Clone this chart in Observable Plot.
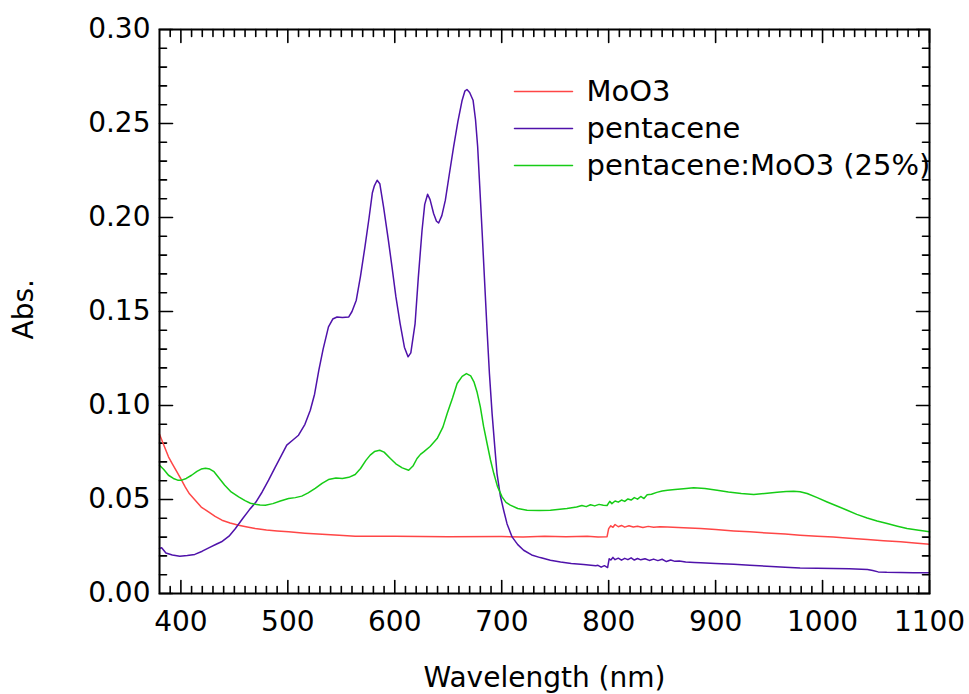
<!DOCTYPE html>
<html>
<head>
<meta charset="utf-8">
<script src="https://cdn.jsdelivr.net/npm/d3@7"></script>
<script src="https://cdn.jsdelivr.net/npm/@observablehq/plot@0.6"></script>
<style>
  html, body { margin: 0; padding: 0; background: #fff; }
  #chart svg { display: block; }
</style>
</head>
<body>
<div id="chart"></div>
<script>
// ---- data ----
const seriesNames = ["MoO3", "pentacene", "pentacene:MoO3 (25%)"];
const seriesColors = ["#ff4646", "#4f12aa", "#16cc16"];

const moo3Wl = [380,384,388.4,392,396.3,400,404,408,413.4,419,425.8,432,438.4,446,454,462,469.5,480,490,500.7,516,532,548,563,600,650,700,720,740,760,780,790,798.5,800,802,804,806,809,812,815,819,823,827,832,837,842,848,855,870,886,900,917,932,948,965,979,995,1010,1025,1042,1057,1073,1086,1100];
const moo3Abs = [0.0847,0.079,0.0727,0.069,0.0647,0.061,0.0567,0.053,0.0496,0.046,0.0434,0.041,0.039,0.0375,0.0363,0.0354,0.0346,0.0338,0.0333,0.0328,0.0321,0.0315,0.031,0.0305,0.0305,0.0302,0.0303,0.0301,0.0304,0.0302,0.0304,0.0301,0.0302,0.0345,0.036,0.0352,0.0367,0.0355,0.0362,0.0353,0.036,0.0354,0.0358,0.0351,0.0357,0.0352,0.0355,0.0354,0.035,0.0346,0.034,0.0333,0.0328,0.0322,0.0316,0.031,0.0305,0.0301,0.0294,0.0287,0.0281,0.0275,0.0269,0.0262];

const pentWl = [380,382,386,392,399,406,413,420,427,433,438,445,451,458,464,470,476,482,488,494,499,505,510,516,521,525,529,533,538,542,546,551,557,560,564,568,572,576,579,581,583.5,586,589.5,594,597.4,601,605,609,612.4,615,619,622,625.5,628,630.7,633,636.3,639,641,644,647.3,651,655,659,663,665.5,667.5,670,673.2,675.5,677.5,679.5,681.6,684,686.3,688.5,691,693.5,695.6,698.7,701.8,705,709.7,715,720.5,728,736,745.5,755,765,776.6,788,790,793,796,799,800.5,802,804,806,809,812,815,818,821,824,827,830,834,838,842,846,850,854,858,862,866,872,880,886,900,917,932,948,965,979,995,1010,1025,1042,1047,1052,1060,1073,1085,1100];
const pentAbs = [0.024,0.0243,0.0215,0.0205,0.0198,0.0202,0.0208,0.0225,0.0245,0.0262,0.0275,0.0305,0.0346,0.04,0.0445,0.0485,0.054,0.0603,0.067,0.0735,0.0789,0.0818,0.0842,0.09,0.0975,0.106,0.1188,0.13,0.1418,0.146,0.1471,0.1468,0.1471,0.15,0.156,0.169,0.184,0.2,0.213,0.217,0.2198,0.218,0.2057,0.188,0.1737,0.158,0.1436,0.131,0.1259,0.128,0.1436,0.168,0.1932,0.207,0.2124,0.2095,0.2021,0.198,0.1971,0.201,0.2092,0.223,0.2376,0.251,0.2624,0.2672,0.2681,0.2665,0.2624,0.252,0.2376,0.216,0.1932,0.166,0.14,0.117,0.0957,0.078,0.0638,0.052,0.0443,0.037,0.0301,0.026,0.023,0.0205,0.0191,0.0177,0.0168,0.016,0.0154,0.0148,0.015,0.014,0.0148,0.0138,0.0185,0.0178,0.0192,0.018,0.0188,0.0177,0.0187,0.018,0.019,0.0178,0.0186,0.0179,0.0185,0.0176,0.0183,0.0175,0.0182,0.017,0.0178,0.0171,0.0173,0.0167,0.0165,0.0163,0.016,0.0156,0.015,0.0145,0.014,0.0136,0.0134,0.0133,0.0131,0.0128,0.0122,0.0115,0.0113,0.0112,0.0111,0.011];

const mixWl = [380,384,388.4,393,397,400.8,405,410,415,419,423,427,431,436,441,447,454,460,465,469.5,474,479,486,493,500.7,507,513,519,525.6,532,538,545,551,557,563,568,573,577,581,585.9,590,595.9,601,607,613,617,620.8,624,627,633,639.6,645,649,654,658.3,663,667,671,674,677,680,683,686.3,689.5,692.6,696,700.3,704,708,715,723.7,735,745.5,761,770,775,779,783,787,791,795,798.5,801,803,806,809,812,815,818,821,824,827,830,833,836,840,845,850,855,862,870,879.5,890,901.4,912,924,935.7,946,957.5,966,973,979,985.6,995,1004.3,1014,1023,1032,1041.7,1051,1060.4,1070,1079,1090,1100];
const mixAbs = [0.0682,0.066,0.0629,0.0612,0.0603,0.0603,0.0612,0.0629,0.065,0.0662,0.0666,0.0662,0.0648,0.0612,0.0576,0.054,0.0514,0.0494,0.048,0.0475,0.0471,0.047,0.0478,0.0492,0.0505,0.051,0.0518,0.0535,0.0559,0.0586,0.0606,0.0614,0.0612,0.0618,0.0633,0.0665,0.0708,0.0736,0.0755,0.0762,0.0752,0.0718,0.069,0.0668,0.0656,0.0678,0.0718,0.074,0.0753,0.0782,0.0824,0.0885,0.0957,0.104,0.1117,0.1155,0.117,0.1158,0.1126,0.107,0.0993,0.089,0.0798,0.071,0.0638,0.057,0.0514,0.0485,0.047,0.0452,0.0443,0.0441,0.0443,0.0452,0.046,0.0468,0.0462,0.0472,0.0466,0.0474,0.0469,0.0468,0.049,0.0478,0.0492,0.0486,0.0497,0.049,0.0503,0.0497,0.051,0.0502,0.0516,0.0505,0.0525,0.0528,0.0538,0.0545,0.0549,0.0553,0.0557,0.0562,0.0558,0.0549,0.054,0.0532,0.0527,0.0532,0.0539,0.0542,0.0544,0.0541,0.0532,0.051,0.0487,0.0464,0.0443,0.0421,0.0402,0.0386,0.0372,0.0358,0.0346,0.0336,0.0328];

const xMajorTicks = [400, 500, 600, 700, 800, 900, 1000, 1100];
const xMinorTicks = d3.range(390, 1100, 10).filter(v => v % 100 !== 0);
const yMajorTicks = [0, 0.05, 0.10, 0.15, 0.20, 0.25, 0.30];
const yMinorTicks = d3.range(1, 30).filter(v => v % 5 !== 0).map(v => v / 100);

const xLabel = "Wavelength (nm)";
const yLabel = "Abs.";

// ---- build ----
const toRows = (wl, ab) => wl.map((w, i) => ({w, a: ab[i]}));
const series = [toRows(moo3Wl, moo3Abs), toRows(pentWl, pentAbs), toRows(mixWl, mixAbs)];

const FONT = 28;
const LEGEND_FONT = 29;
const lineShape = {draw(ctx, l) { ctx.moveTo(0, 0); ctx.lineTo(0, -l); }};
const tickOpts = (anchor, rotate, len) => ({frameAnchor: anchor, rotate, length: len, anchor: "start", shape: lineShape, stroke: "black", strokeWidth: 1.6});

const marks = [];
// inward ticks on all four sides
marks.push(Plot.vectorX(xMajorTicks, {x: d => d, ...tickOpts("bottom", 0, 13)}));
marks.push(Plot.vectorX(xMinorTicks, {x: d => d, ...tickOpts("bottom", 0, 7)}));
marks.push(Plot.vectorX(xMajorTicks, {x: d => d, ...tickOpts("top", 180, 13)}));
marks.push(Plot.vectorX(xMinorTicks, {x: d => d, ...tickOpts("top", 180, 7)}));
marks.push(Plot.vectorY(yMajorTicks, {y: d => d, ...tickOpts("left", 90, 13)}));
marks.push(Plot.vectorY(yMinorTicks, {y: d => d, ...tickOpts("left", 90, 7)}));
marks.push(Plot.vectorY(yMajorTicks, {y: d => d, ...tickOpts("right", -90, 13)}));
marks.push(Plot.vectorY(yMinorTicks, {y: d => d, ...tickOpts("right", -90, 7)}));

// curves
series.forEach((rows, i) => {
  marks.push(Plot.line(rows, {x: "w", y: "a", stroke: seriesColors[i], strokeWidth: 1.5}));
});

// tick labels
marks.push(Plot.axisX(xMajorTicks, {tickSize: 0, tickPadding: 18, fontSize: FONT, label: null, tickFormat: d => String(d), fill: "black"}));
marks.push(Plot.axisY(yMajorTicks, {tickSize: 0, tickPadding: 9, fontSize: FONT, label: null, tickFormat: d => d.toFixed(2), fill: "black"}));

// axis titles
marks.push(Plot.text([xLabel], {frameAnchor: "bottom", dy: 85, text: d => d, fontSize: FONT, lineAnchor: "middle"}));
marks.push(Plot.text([yLabel], {frameAnchor: "left", dx: -135, dy: 28, text: d => d, fontSize: FONT, rotate: -90, lineAnchor: "middle"}));

// legend
seriesNames.forEach((name, i) => {
  marks.push(Plot.vector([name], {frameAnchor: "top-left", dx: 355, dy: 62 + i * 37, rotate: 90, length: 58, anchor: "start", shape: lineShape, stroke: seriesColors[i], strokeWidth: 1.5}));
  marks.push(Plot.text([name], {frameAnchor: "top-left", dx: 427, dy: 62 + i * 37, text: d => d, textAnchor: "start", lineAnchor: "middle", fontSize: LEGEND_FONT}));
});

marks.push(Plot.frame({stroke: "black", strokeWidth: 2}));

const chart = Plot.plot({
  width: 969,
  height: 694,
  marginLeft: 159,
  marginRight: 40,
  marginTop: 29,
  marginBottom: 101,
  x: {domain: [380, 1100]},
  y: {domain: [0, 0.30]},
  style: {fontFamily: "'DejaVu Sans', sans-serif", fontSize: FONT + "px", color: "black", background: "white"},
  marks
});
document.getElementById("chart").appendChild(chart);
</script>
</body>
</html>
